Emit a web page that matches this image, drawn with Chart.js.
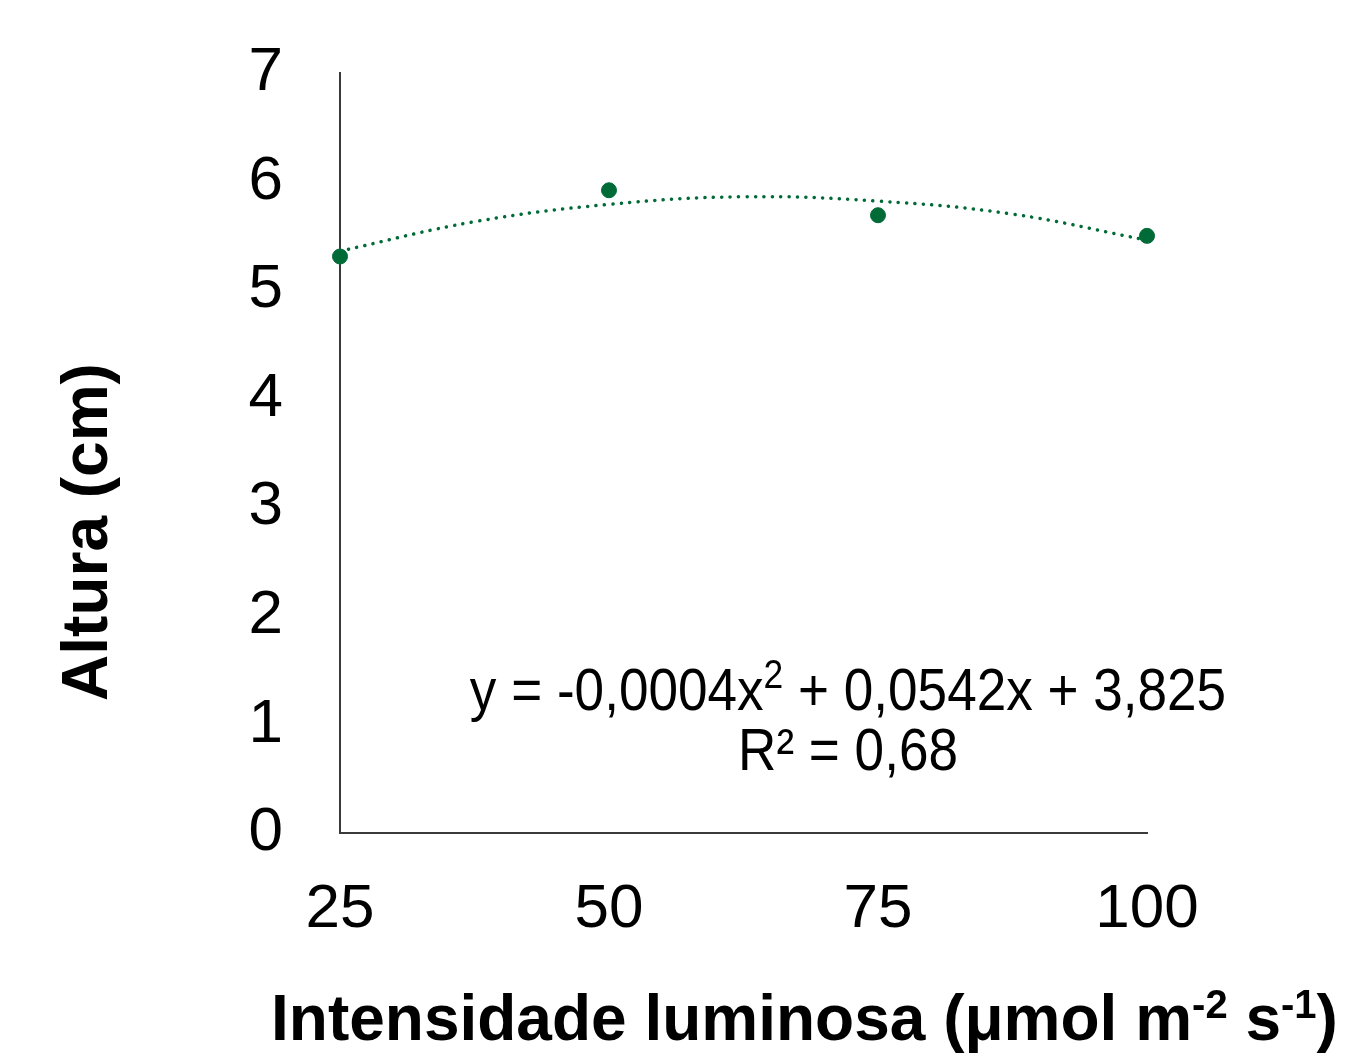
<!DOCTYPE html>
<html lang="pt">
<head>
<meta charset="utf-8">
<title>Altura x Intensidade luminosa</title>
<script src="https://cdn.jsdelivr.net/npm/chart.js@4.4.1/dist/chart.umd.min.js"></script>
<style>
    html, body { margin: 0; padding: 0; background: #ffffff; }
    #grafico { display: block; }
</style>
</head>
<body>
<canvas id="grafico" width="1346" height="1053"></canvas>
<script>
// Dados
const intensidade = [25, 50, 75, 100];
const altura = [5.31, 5.92, 5.69, 5.50];

// Linha de tendência (polinomial)
const tendenciaX = [25, 37.5, 50, 62.5, 75, 87.5, 100];
const tendenciaY = [5.36, 5.63, 5.79, 5.86, 5.82, 5.70, 5.46];

// Marcas dos eixos
const ticksX = [25, 50, 75, 100];
const ticksY = [0, 1, 2, 3, 4, 5, 6, 7];

const VERDE = '#006b37';
const FONTE = '"Liberation Sans", Arial, Helvetica, sans-serif';

// Textos desenhados por cima do gráfico (títulos dos eixos e equação)
const textosPlugin = {
    id: 'textos',
    afterDraw(chart) {
        const ctx = chart.ctx;
        ctx.save();
        ctx.fillStyle = '#000000';
        ctx.textBaseline = 'alphabetic';

        // Equação da tendência
        const cx = 848;
        ctx.save();
        ctx.translate(cx, 0);
        ctx.scale(0.885, 1);
        ctx.font = `60px ${FONTE}`;
        const p1 = 'y = -0,0004x';
        const p3 = ' + 0,0542x + 3,825';
        const w1 = ctx.measureText(p1).width;
        const w3 = ctx.measureText(p3).width;
        ctx.font = `40px ${FONTE}`;
        const w2 = ctx.measureText('2').width;
        const total = w1 + w2 + w3;
        let x = -total / 2;
        ctx.font = `60px ${FONTE}`;
        ctx.textAlign = 'left';
        ctx.fillText(p1, x, 710);
        x += w1;
        ctx.font = `40px ${FONTE}`;
        ctx.fillText('2', x, 688);
        x += w2;
        ctx.font = `60px ${FONTE}`;
        ctx.fillText(p3, x, 710);
        ctx.textAlign = 'center';
        ctx.fillText('R² = 0,68', 0, 770);
        ctx.restore();

        // Título do eixo X
        ctx.textAlign = 'left';
        let tx = 271;
        const base = 1040;
        const partes = [
            ['Intensidade luminosa (μmol m', 64, 0],
            ['-2', 40, -22],
            [' s', 64, 0],
            ['-1', 40, -22],
            [')', 64, 0]
        ];
        partes.forEach(([txt, tam, dy]) => {
            ctx.font = `bold ${tam}px ${FONTE}`;
            ctx.fillText(txt, tx, base + dy);
            tx += ctx.measureText(txt).width;
        });

        // Título do eixo Y
        ctx.save();
        ctx.translate(107, 532);
        ctx.rotate(-Math.PI / 2);
        ctx.textAlign = 'center';
        ctx.font = `bold 64px ${FONTE}`;
        ctx.fillText('Altura (cm)', 0, 0);
        ctx.restore();

        ctx.restore();
    }
};

document.addEventListener('DOMContentLoaded', () => {
    const ctx = document.getElementById('grafico');

    new Chart(ctx, {
        type: 'scatter',
        data: {
            datasets: [
                {
                    label: 'Altura',
                    data: intensidade.map((v, i) => ({ x: v, y: altura[i] })),
                    backgroundColor: VERDE,
                    borderColor: VERDE,
                    pointRadius: 7.5,
                    pointHoverRadius: 7.5,
                    showLine: false,
                    clip: false,
                    order: 0
                },
                {
                    label: 'Tendência',
                    data: tendenciaX.map((v, i) => ({ x: v, y: tendenciaY[i] })),
                    showLine: true,
                    borderColor: VERDE,
                    borderWidth: 3.5,
                    borderDash: [0.1, 8.3],
                    borderCapStyle: 'round',
                    tension: 0.4,
                    pointRadius: 0,
                    fill: false,
                    clip: false,
                    order: 1
                }
            ]
        },
        options: {
            responsive: false,
            animation: false,
            events: [],
            layout: {
                padding: { top: 73, right: 199, left: 0, bottom: 0 }
            },
            plugins: {
                legend: { display: false },
                tooltip: { enabled: false },
                title: { display: false }
            },
            scales: {
                x: {
                    type: 'linear',
                    min: 25,
                    max: 100,
                    afterBuildTicks: (scale) => {
                        scale.ticks = ticksX.map(v => ({ value: v }));
                    },
                    afterFit: (scale) => {
                        scale.height = 220;
                        scale.paddingLeft = 0;
                        scale.paddingRight = 0;
                    },
                    grid: { display: false, drawTicks: false, tickLength: 0 },
                    border: { display: true, color: '#3a3a3a', width: 2 },
                    ticks: {
                        color: '#000000',
                        padding: 40,
                        maxRotation: 0,
                        font: { family: FONTE, size: 62 }
                    }
                },
                y: {
                    type: 'linear',
                    min: 0,
                    max: 7,
                    afterBuildTicks: (scale) => {
                        scale.ticks = ticksY.map(v => ({ value: v }));
                    },
                    afterFit: (scale) => {
                        scale.width = 340;
                        scale.paddingTop = 0;
                        scale.paddingBottom = 0;
                    },
                    grid: { display: false, drawTicks: false, tickLength: 0 },
                    border: { display: true, color: '#3a3a3a', width: 2 },
                    ticks: {
                        color: '#000000',
                        padding: 57,
                        font: { family: FONTE, size: 62 }
                    }
                }
            }
        },
        plugins: [textosPlugin]
    });
});
</script>
</body>
</html>
